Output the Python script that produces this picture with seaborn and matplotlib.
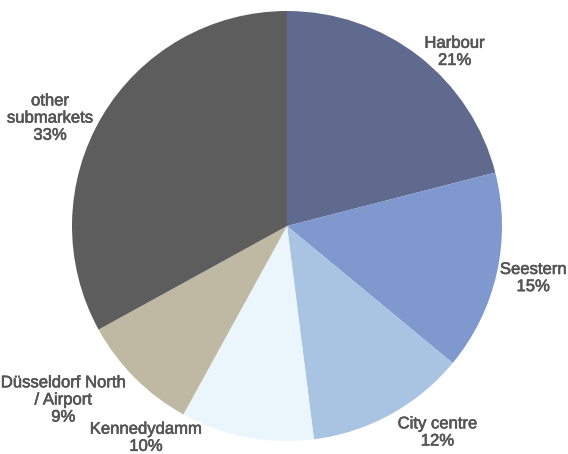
import matplotlib
matplotlib.use("Agg")
import matplotlib.pyplot as plt
import matplotlib.patheffects as pe
import seaborn as sns

# Office take-up by submarket (share in %)
submarkets = ["Harbour", "Seestern", "City centre", "Kennedydamm",
              "Düsseldorf North\n/ Airport", "other\nsubmarkets"]
shares = [21, 15, 12, 10, 9, 33]
slice_colors = ["#5f6a8e", "#7f98cd", "#a9c4e3", "#eaf5fc", "#bfb9a3", "#5d5d5d"]

# label anchor points (axes data units, pie radius = 1)
label_xy = [(0.78, 0.81), (1.145, -0.242), (0.70, -0.960),
            (-0.656, -0.985), (-1.040, -0.809), (-1.102, 0.502)]

sns.set_theme(style="white")
plt.rcParams["font.family"] = ["Liberation Sans", "DejaVu Sans"]

fig = plt.figure(figsize=(5.68, 4.54), dpi=100)
ax = fig.add_axes([0, 0, 1, 1])

palette = sns.color_palette(slice_colors)
wedges, _ = ax.pie(shares, colors=palette, startangle=90, counterclock=False,
                   radius=1.0, center=(0, 0),
                   wedgeprops=dict(linewidth=0, antialiased=True))

text_color = "#555555"
for name, val, (lx, ly) in zip(submarkets, shares, label_xy):
    ax.text(lx, ly, f"{name}\n{val}%", ha="center", va="center",
            fontsize=12, color=text_color, linespacing=1.18,
            path_effects=[pe.withStroke(linewidth=0.45, foreground=text_color)])

ax.set_xlim(-287 / 215, (568 - 287) / 215)
ax.set_ylim(-(454 - 226) / 215, 226 / 215)
ax.set_aspect("equal")
ax.axis("off")

fig.savefig("out.png", dpi=100)
